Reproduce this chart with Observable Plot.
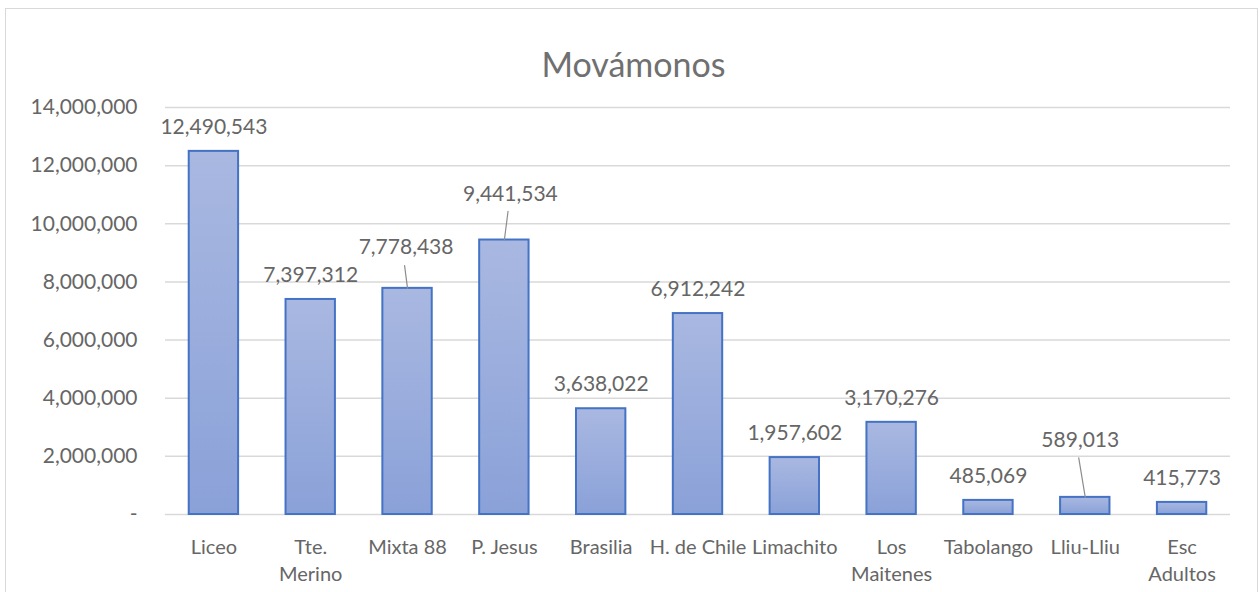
<!DOCTYPE html>
<html>
<head>
<meta charset="utf-8">
<script src="https://cdn.jsdelivr.net/npm/d3@7"></script>
<script src="https://cdn.jsdelivr.net/npm/@observablehq/plot@0.6"></script>
<style>
  html, body { margin: 0; padding: 0; background: #fff; }
  #frame { position: absolute; left: 5px; top: 8px; width: 1253px; height: 600px; border: 1.5px solid #d9d9d9; box-sizing: border-box; }
  #chart { position: absolute; left: 0; top: 0; }
  svg text { font-family: Lato, "Open Sans", sans-serif; }
</style>
</head>
<body>
<div id="frame"></div>
<div id="chart"></div>
<script>
// ---- data ----
const title = "Movámonos";
const names = ["Liceo", "Tte. Merino", "Mixta 88", "P. Jesus", "Brasilia", "H. de Chile", "Limachito", "Los Maitenes", "Tabolango", "Lliu-Lliu", "Esc Adultos"];
const values = [12490543, 7397312, 7778438, 9441534, 3638022, 6912242, 1957602, 3170276, 485069, 589013, 415773];
const tickLabels = ["Liceo", "Tte.\nMerino", "Mixta 88", "P. Jesus", "Brasilia", "H. de Chile", "Limachito", "Los\nMaitenes", "Tabolango", "Lliu-Lliu", "Esc\nAdultos"];
const yTicks = [0, 2000000, 4000000, 6000000, 8000000, 10000000, 12000000, 14000000];

// ---- label layout (style only: pixel nudges of moved data labels + leader lines) ----
const labelNudge = {
  "Mixta 88":  {dx: -1.5, dy: -41, len: 23, angle: -7.4},
  "P. Jesus":  {dx: 6,    dy: -46, len: 29, angle: 7.3},
  "Lliu-Lliu": {dx: -5,   dy: -57, len: 40, angle: -9.4}
};

const data = names.map((name, i) => ({name, value: values[i], label: tickLabels[i]}));
const fmt = d3.format(",");
const textColor = "#666666";

const plainLabels = data.filter(d => !labelNudge[d.name]);
const movedLabels = data.filter(d => labelNudge[d.name]);

const marks = [
  Plot.ruleY(yTicks, {stroke: "#d9d9d9", strokeWidth: 1.5}),
  Plot.barY(data, {x: "name", y: "value", fill: "url(#barGrad)", stroke: "#4472C4", strokeWidth: 2}),
  Plot.text(plainLabels, {x: "name", y: "value", text: d => fmt(d.value), dy: -24, fill: textColor, fontSize: 21}),
  ...movedLabels.map(d => Plot.text([d], {x: "name", y: "value", text: d => fmt(d.value), dx: labelNudge[d.name].dx, dy: labelNudge[d.name].dy, fill: textColor, fontSize: 21})),
  Plot.vector(movedLabels, {
    x: "name", y: "value", anchor: "start",
    length: d => labelNudge[d.name].len,
    rotate: d => labelNudge[d.name].angle,
    shape: {draw(context, l) { context.moveTo(0, 0); context.lineTo(0, -l); }},
    stroke: "#8c8c8c", strokeWidth: 1.2
  }),
  Plot.axisY(yTicks, {tickSize: 0, tickPadding: 28, tickFormat: d => d === 0 ? "-" : fmt(d), fill: textColor, fontSize: 21}),
  Plot.axisX({tickSize: 0, tickPadding: 20, tickFormat: n => tickLabels[names.indexOf(n)], fill: textColor, fontSize: 20, lineHeight: 1.35}),
  Plot.text([title], {frameAnchor: "top", dx: -64.5, dy: -55, fill: "#707070", fontSize: 34})
];

const chart = Plot.plot({
  width: 1259,
  height: 592,
  marginTop: 107,
  marginBottom: 78,
  marginLeft: 165,
  marginRight: 29,
  style: {background: "transparent", fontFamily: "Lato, 'Open Sans', sans-serif", overflow: "visible"},
  x: {domain: names, paddingInner: 0.49, paddingOuter: 0.245, round: false, label: null},
  y: {domain: [0, 14000000], label: null},
  length: {type: "identity"},
  marks
});

// vertical gradient fill used by every bar (per-bar bounding box)
const defs = d3.select(chart).insert("defs", ":first-child");
const g = defs.append("linearGradient").attr("id", "barGrad").attr("x1", 0).attr("y1", 0).attr("x2", 0).attr("y2", 1);
g.append("stop").attr("offset", "0%").attr("stop-color", "#a9b8e1");
g.append("stop").attr("offset", "100%").attr("stop-color", "#8aa1d8");

document.getElementById("chart").appendChild(chart);
</script>
</body>
</html>
